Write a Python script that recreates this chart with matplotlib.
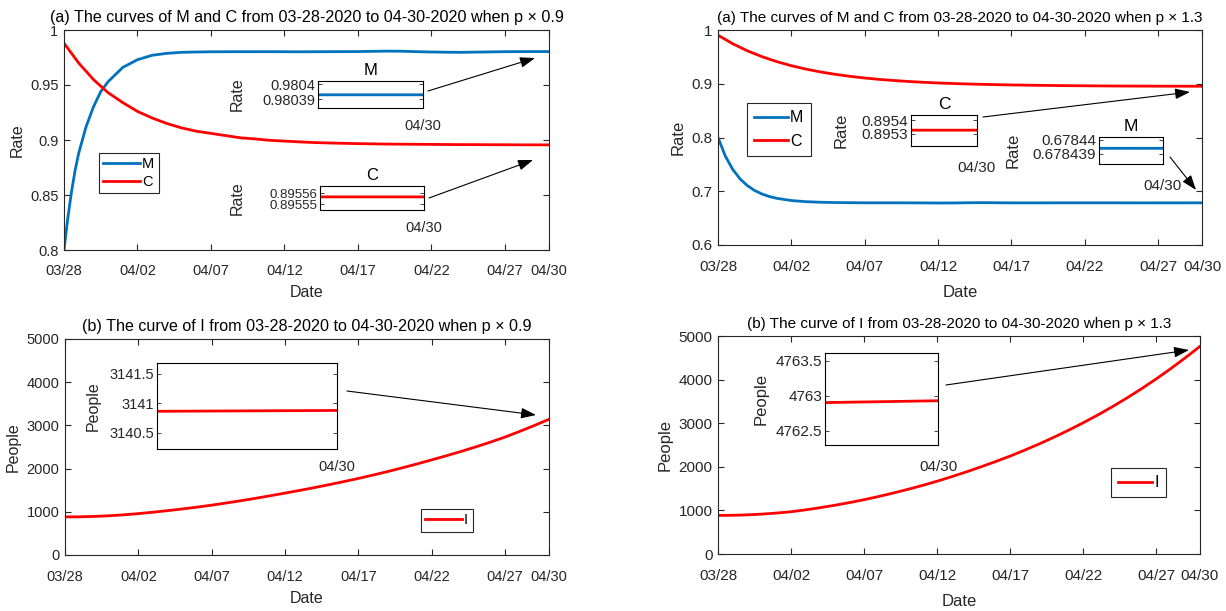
import numpy as np
import matplotlib.pyplot as plt

W, H = 1226, 611
blue = '#0072BD'
red = '#FF0000'
edge = '#262626'
font = ['Liberation Sans', 'DejaVu Sans']

# ---- data (days counted from 03/28) ----
days = list(range(34))
tickDays = [0, 5, 10, 15, 20, 25, 30, 33]
tickLabels = ['03/28', '04/02', '04/07', '04/12', '04/17', '04/22', '04/27', '04/30']

# p x 0.9
mLeftDays = [0, 0.25, 0.5, 0.75, 1, 1.5, 2, 2.5, 3, 4, 5, 6, 7, 8, 9, 10,
             12, 14, 16, 18, 20, 21, 22, 23, 24, 25, 26, 27, 28, 30, 32, 33]
mLeftRate = [0.800, 0.828, 0.852, 0.872, 0.888, 0.912, 0.930, 0.944, 0.953,
             0.966, 0.973, 0.977, 0.9788, 0.9797, 0.9800, 0.9802,
             0.9803, 0.9803, 0.9802, 0.9803, 0.9804, 0.9806, 0.9808, 0.9807,
             0.9803, 0.9800, 0.9798, 0.9797, 0.9799, 0.9803, 0.9804, 0.980393]
cLeftRate = [0.988, 0.970, 0.955, 0.943, 0.934, 0.926, 0.920, 0.915, 0.911, 0.908,
             0.906, 0.904, 0.902, 0.901, 0.8997, 0.8990, 0.8983, 0.8977, 0.8973, 0.8970,
             0.8967, 0.8965, 0.8963, 0.8962, 0.8961, 0.8960, 0.8959, 0.8958, 0.8958, 0.8957,
             0.8957, 0.8956, 0.8956, 0.8955566]
iLeftPeople = [882, 884, 893, 908, 930, 958, 991, 1027, 1066, 1108,
               1154, 1204, 1257, 1313, 1372, 1433, 1495, 1560, 1628, 1699,
               1772, 1850, 1932, 2018, 2108, 2202, 2297, 2397, 2502, 2612,
               2730, 2861, 2998, 3140.88]

# p x 1.3
mRightDays = [0, 0.5, 1, 1.5, 2, 2.5, 3, 3.5, 4, 5, 6, 7, 8, 9, 10,
              12, 14, 15, 16, 17, 18, 19, 20, 22, 24, 26, 28, 30, 33]
mRightRate = [0.8000, 0.7655, 0.7408, 0.7231, 0.7105, 0.7014, 0.6949, 0.6902, 0.6869,
              0.6827, 0.6806, 0.6795, 0.6790, 0.6787, 0.6785,
              0.6785, 0.6783, 0.6781, 0.6782, 0.6786, 0.6788, 0.6786, 0.6784,
              0.6784, 0.6785, 0.6785, 0.6784, 0.6784, 0.6784394]
cRightRate = [0.9903, 0.9745, 0.9613, 0.9504, 0.9412, 0.9336, 0.9272, 0.9219, 0.9175, 0.9138,
              0.9107, 0.9081, 0.9060, 0.9042, 0.9027, 0.9015, 0.9005, 0.8996, 0.8989, 0.8983,
              0.8978, 0.8974, 0.8970, 0.8967, 0.8964, 0.8962, 0.8960, 0.8958, 0.8957, 0.8956,
              0.8955, 0.89543, 0.89537, 0.895325]
iRightPeople = [885, 888, 898, 915, 939, 969, 1013, 1063, 1118, 1179,
                1246, 1319, 1398, 1483, 1573, 1669, 1773, 1883, 1999, 2119,
                2246, 2382, 2526, 2678, 2839, 3009, 3188, 3378, 3579, 3791,
                4015, 4252, 4502, 4762.93]

# inset tick values
mLeftInsetTicks = [0.98039, 0.9804]
cLeftInsetTicks = [0.89555, 0.89556]
iLeftInsetTicks = [3140.5, 3141, 3141.5]
cRightInsetTicks = [0.8953, 0.8954]
mRightInsetTicks = [0.678439, 0.67844]
iRightInsetTicks = [4762.5, 4763, 4763.5]


def Rect(x0, y0, x1, y1):
	return [x0 / W, 1 - y1 / H, (x1 - x0) / W, (y1 - y0) / H]


def FigPoint(x, y):
	return (x / W, 1 - y / H)


def SetFont(ax):
	for lbl in ax.get_xticklabels() + ax.get_yticklabels():
		lbl.set_family(font)


def SetupMain(ax, yTicks, ylabel, title, size, titleSize, xPad, labelPad):
	ax.set_xlim(0, 33)
	ax.set_xticks(tickDays, tickLabels)
	ax.set_yticks(yTicks, ['%g' % v for v in yTicks])
	ax.set_ylim(yTicks[0], yTicks[-1])
	ax.tick_params(direction='in', top=True, right=True, length=4, width=0.8,
	               labelsize=size, pad=4, colors=edge)
	ax.tick_params(axis='x', pad=xPad)
	for s in ax.spines.values():
		s.set_color(edge)
		s.set_linewidth(0.8)
	ax.set_xlabel('Date', fontsize=size + 1, family=font, color=edge, labelpad=labelPad)
	ax.set_ylabel(ylabel, fontsize=size + 1, family=font, color=edge)
	ax.set_title(title, fontsize=titleSize, family=font, color='k')
	SetFont(ax)


def AddInset(fig, box, x, y, color, yTicks, ylim, title, ylabel, labelX, size, xPad,
             ySize=None):
	ins = fig.add_axes(Rect(*box))
	ins.plot(x, y, color=color, lw=2)
	ins.set_xlim(33 - 1e-4, 33)
	ins.set_ylim(*ylim)
	ins.set_xticks([33], ['04/30'])
	ins.set_yticks(yTicks, ['%g' % v for v in yTicks])
	ins.tick_params(direction='in', right=True, length=3, width=0.6, labelsize=size,
	                colors=edge)
	ins.tick_params(axis='x', pad=xPad)
	ins.tick_params(axis='y', pad=2, labelsize=ySize or size)
	for s in ins.spines.values():
		s.set_color('k')
		s.set_linewidth(0.8)
	if title:
		ins.set_title(title, fontsize=size + 1.5, family=font, pad=4)
	ins.set_ylabel(ylabel, fontsize=size + 1, family=font, color=edge)
	ins.yaxis.set_label_coords(labelX, 0.5)
	SetFont(ins)
	return ins


def Arrow(ax, start, end):
	ax.annotate('', xy=FigPoint(*end), xytext=FigPoint(*start),
	            xycoords='figure fraction', textcoords='figure fraction',
	            annotation_clip=False,
	            arrowprops=dict(arrowstyle='-|>,head_length=0.7,head_width=0.25',
	                            color='k', lw=0.8, mutation_scale=13,
	                            shrinkA=0, shrinkB=0))


def Legend(fig, ax, x0, y0, size, handleLength, spacing, borderPad):
	leg = ax.legend(loc='upper left', bbox_to_anchor=FigPoint(x0, y0),
	                bbox_transform=fig.transFigure, borderaxespad=0,
	                fancybox=False, edgecolor=edge, framealpha=1,
	                handlelength=handleLength, handletextpad=0.15, borderpad=borderPad,
	                labelspacing=spacing, prop={'family': font, 'size': size})
	leg.get_frame().set_linewidth(0.8)


fig = plt.figure(figsize=(W / 100, H / 100), dpi=100)

# ---- (a) p x 0.9 ----
ax1 = fig.add_axes(Rect(64, 30, 549, 250))
ax1.plot(mLeftDays, mLeftRate, color=blue, lw=2, label='M')
ax1.plot(days, cLeftRate, color=red, lw=2, label='C')
SetupMain(ax1, [0.8, 0.85, 0.9, 0.95, 1.0], 'Rate',
          '(a) The curves of M and C from 03-28-2020 to 04-30-2020 when p \u00d7 0.9',
          10.5, 11.6, 10, 5)
Legend(fig, ax1, 99, 153, 10.5, 2.5, 0.25, 0.3)
AddInset(fig, (318, 81, 423, 108), mLeftDays, mLeftRate, blue, mLeftInsetTicks,
         (0.9803842, 0.9804022), 'M', 'Rate', -0.70, 10.5, 8)
AddInset(fig, (320, 186, 424, 210), days, cLeftRate, red, cLeftInsetTicks,
         (0.8955448, 0.8955664), 'C', 'Rate', -0.72, 10.5, 8, ySize=9.5)
Arrow(ax1, (428, 91), (535, 58))
Arrow(ax1, (429, 198), (533, 160))

# ---- (a) p x 1.3 ----
ax2 = fig.add_axes(Rect(718, 30, 1202, 245))
ax2.plot(mRightDays, mRightRate, color=blue, lw=2, label='M')
ax2.plot(days, cRightRate, color=red, lw=2, label='C')
SetupMain(ax2, [0.6, 0.7, 0.8, 0.9, 1.0], 'Rate',
          '(a) The curves of M and C from 03-28-2020 to 04-30-2020 when p \u00d7 1.3',
          11, 11, 11, 8)
Legend(fig, ax2, 747, 103, 11.5, 2.1, 0.55, 0.45)
AddInset(fig, (911, 115, 977, 146), days, cRightRate, red, cRightInsetTicks,
         (0.895207, 0.895438), 'C', 'Rate', -0.94, 11, 11)
AddInset(fig, (1099, 137, 1163, 164), mRightDays, mRightRate, blue, mRightInsetTicks,
         (0.67843829, 0.6784402), 'M', 'Rate', -1.23, 11, 11)
Arrow(ax2, (983, 117), (1190, 92))
Arrow(ax2, (1170, 157), (1196, 190))

# ---- (b) p x 0.9 ----
ax3 = fig.add_axes(Rect(65, 339, 549, 555))
ax3.plot(days, iLeftPeople, color=red, lw=2, label='I')
SetupMain(ax3, [0, 1000, 2000, 3000, 4000, 5000], 'People',
          '(b) The curve of I from 03-28-2020 to 04-30-2020 when p \u00d7 0.9',
          10.5, 11.6, 11, 5)
Legend(fig, ax3, 421, 509, 10.5, 2.5, 0.25, 0.3)
AddInset(fig, (157, 363, 337, 449), days, iLeftPeople, red, iLeftInsetTicks,
         (3140.23, 3141.68), None, 'People', -0.31, 10.5, 8)
Arrow(ax3, (347, 391), (536, 415))

# ---- (b) p x 1.3 ----
ax4 = fig.add_axes(Rect(718, 336, 1200, 554))
ax4.plot(days, iRightPeople, color=red, lw=2, label='I')
SetupMain(ax4, [0, 1000, 2000, 3000, 4000, 5000], 'People',
          '(b) The curve of I from 03-28-2020 to 04-30-2020 when p \u00d7 1.3',
          11, 11, 11, 8)
Legend(fig, ax4, 1111, 468, 11.5, 2.1, 0.3, 0.45)
AddInset(fig, (825, 353, 938, 445), days, iRightPeople, red, iRightInsetTicks,
         (4762.3, 4763.61), None, 'People', -0.5, 11, 11)
Arrow(ax4, (946, 385), (1189, 350))

fig.savefig('out.png', dpi=100)
